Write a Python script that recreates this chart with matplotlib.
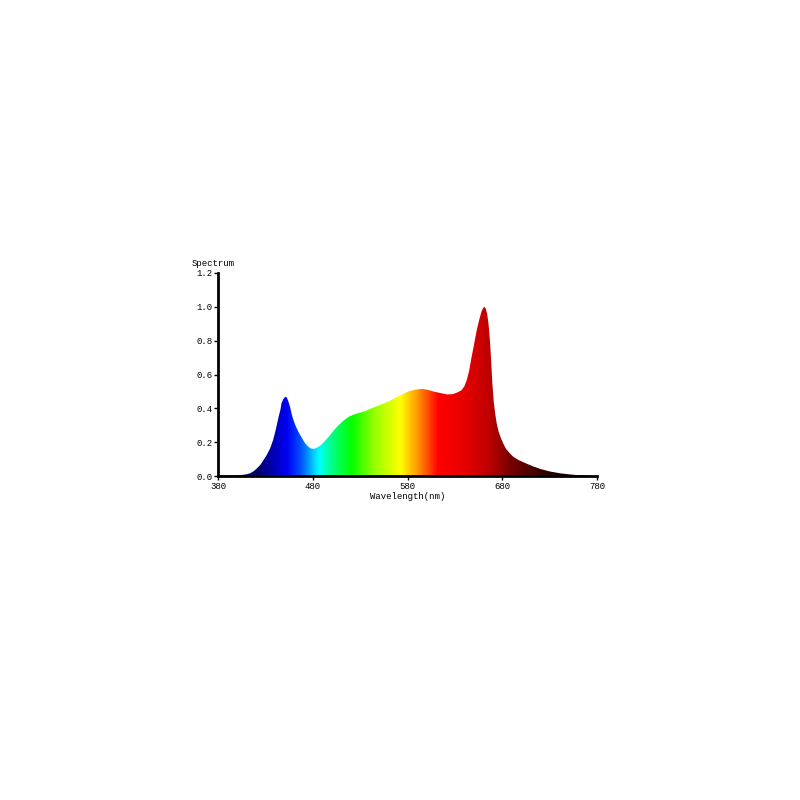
import numpy as np
import matplotlib.pyplot as plt
from matplotlib.colors import LinearSegmentedColormap
from matplotlib.patches import Polygon

# spectrum (nm, relative intensity)
wavelength = [380, 385, 390, 398, 405, 410, 414, 418, 421, 425, 428, 431, 435,
              438, 440, 442, 444, 446, 447, 449, 451, 452.5, 454, 456, 458,
              460, 462, 465, 468, 472, 475, 478, 481, 484, 488, 493, 498, 503,
              508, 513, 518, 524, 530, 536, 542, 551, 560, 570, 581, 588, 595,
              601, 607, 615, 622, 628, 633, 637, 640, 642.5, 645, 647.5, 650,
              653, 656, 658, 659.5, 661, 662.5, 664, 665.5, 667, 668.3, 669.5,
              671, 672.5, 674, 676, 678.5, 681, 684, 688, 692, 697, 704, 712,
              720, 730, 741, 752, 762, 772, 780]
intensity = [0.006, 0.004, 0.002, 0.003, 0.006, 0.01, 0.016, 0.03, 0.045, 0.068,
             0.094, 0.12, 0.163, 0.21, 0.252, 0.3, 0.35, 0.395, 0.43, 0.455,
             0.468, 0.465, 0.445, 0.41, 0.36, 0.325, 0.295, 0.26, 0.23, 0.193,
             0.175, 0.163, 0.16, 0.166, 0.18, 0.208, 0.24, 0.275, 0.305, 0.33,
             0.35, 0.365, 0.375, 0.385, 0.40, 0.42, 0.44, 0.47, 0.50, 0.51,
             0.515, 0.51, 0.50, 0.49, 0.482, 0.484, 0.495, 0.507, 0.53, 0.566,
             0.62, 0.70, 0.77, 0.86, 0.93, 0.97, 0.99, 1.0, 0.99, 0.96, 0.9,
             0.8, 0.68, 0.55, 0.44, 0.37, 0.315, 0.265, 0.225, 0.193, 0.16,
             0.134, 0.112, 0.095, 0.077, 0.058, 0.042, 0.027, 0.016, 0.009,
             0.004, 0.001, 0.0]

# wavelength colour stops
stop_nm = [380, 420, 440, 452, 466, 476, 486, 500, 520, 545, 572, 590, 612,
           640, 665, 690, 730, 780]
stop_rgb = [(0.1, 0.0, 0.3), (0.0, 0.0, 0.4), (0.0, 0.0, 0.75), (0.0, 0.0, 0.95),
            (0.0, 0.3, 1.0), (0.0, 0.65, 1.0), (0.0, 1.0, 1.0), (0.0, 1.0, 0.5),
            (0.0, 1.0, 0.0), (0.6, 1.0, 0.0), (1.0, 1.0, 0.0), (1.0, 0.6, 0.0),
            (1.0, 0.0, 0.0), (0.9, 0.0, 0.0), (0.75, 0.0, 0.0), (0.45, 0.0, 0.0),
            (0.15, 0.0, 0.0), (0.0, 0.0, 0.0)]

x_ticks = [380, 480, 580, 680, 780]
y_ticks = [0.0, 0.2, 0.4, 0.6, 0.8, 1.0, 1.2]

pos = [(n - 380) / 400 for n in stop_nm]
cmap = LinearSegmentedColormap.from_list('spec', list(zip(pos, stop_rgb)))

font = 'Liberation Mono'
fig = plt.figure(figsize=(8, 8), dpi=100)
ax = fig.add_axes([0.2725, 0.405, 0.47375, 0.25375])

grad = np.linspace(380, 780, 800).reshape(1, -1)
img = ax.imshow(grad, extent=[380, 780, 0, 1.2], aspect='auto', cmap=cmap,
                vmin=380, vmax=780, interpolation='bilinear')
verts = list(zip(wavelength, intensity)) + [(780, 0), (380, 0)]
poly = Polygon(verts, closed=True, facecolor='none', edgecolor='none')
ax.add_patch(poly)
img.set_clip_path(poly)

ax.set_xlim(380, 780)
ax.set_ylim(0, 1.2)
ax.set_xticks(x_ticks)
ax.set_yticks(y_ticks)
ax.set_yticklabels(['%.1f' % v for v in y_ticks])
ax.spines['top'].set_visible(False)
ax.spines['right'].set_visible(False)
ax.spines['left'].set_linewidth(2)
ax.spines['bottom'].set_linewidth(2)
ax.tick_params(axis='both', length=3, width=1, labelsize=6.5, pad=1)
for lab in ax.get_xticklabels() + ax.get_yticklabels():
    lab.set_fontfamily(font)
ax.set_xlabel('Wavelength(nm)', fontfamily=font, fontsize=6.5, labelpad=1)
fig.text(0.24, 0.671, 'Spectrum', fontfamily=font, fontsize=6.5,
         ha='left', va='center')

fig.savefig('out.png', dpi=100)
